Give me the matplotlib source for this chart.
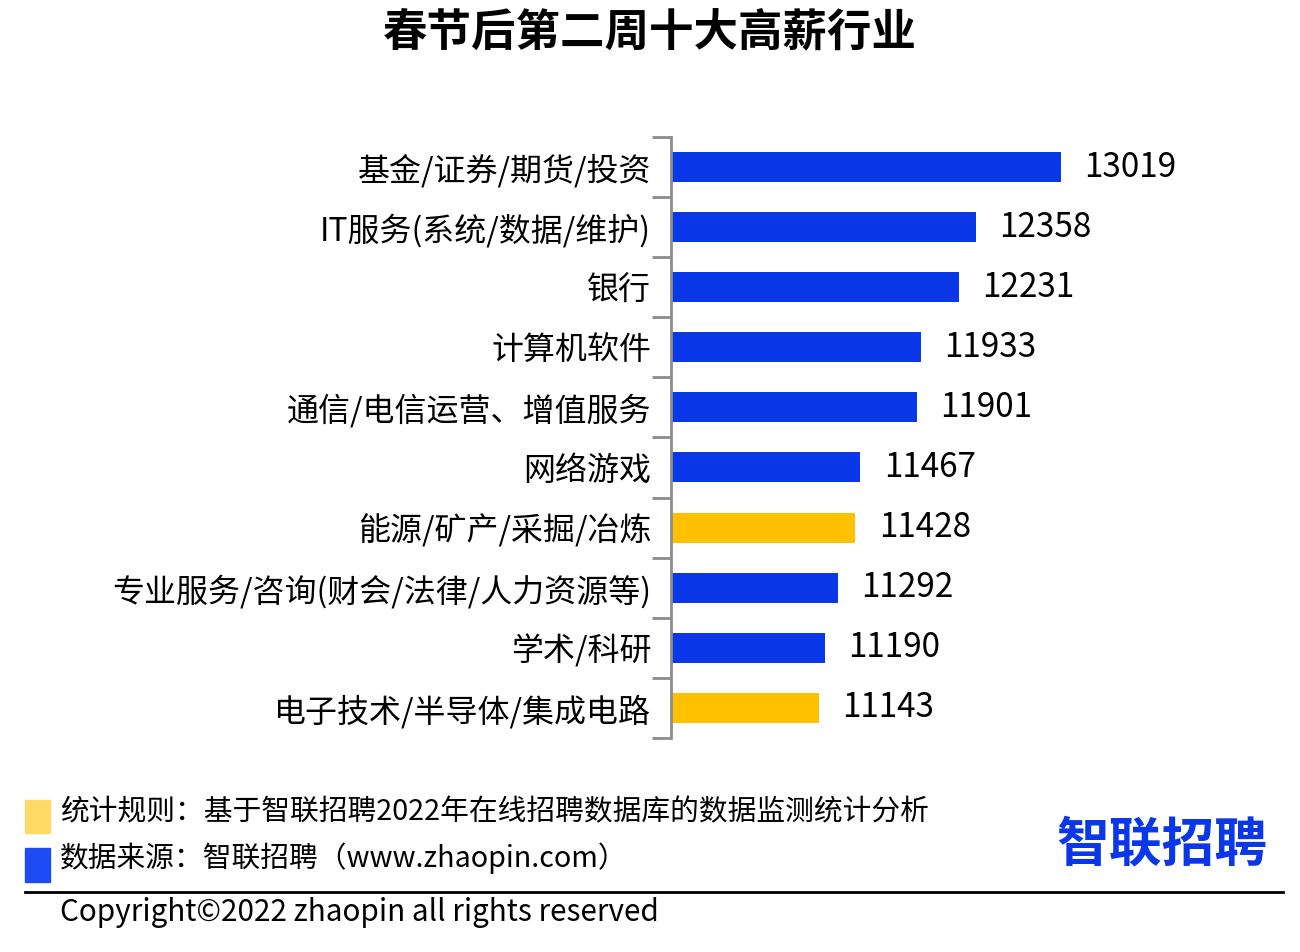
import matplotlib.pyplot as plt
from matplotlib.patches import Rectangle
from matplotlib.lines import Line2D

plt.rcParams['font.family'] = ['Noto Sans CJK SC', 'DejaVu Sans']

industries = ["基金/证券/期货/投资", "IT服务(系统/数据/维护)", "银行", "计算机软件",
              "通信/电信运营、增值服务", "网络游戏", "能源/矿产/采掘/冶炼",
              "专业服务/咨询(财会/法律/人力资源等)", "学术/科研", "电子技术/半导体/集成电路"]
salaries = [13019, 12358, 12231, 11933, 11901, 11467, 11428, 11292, 11190, 11143]
highlight = [False, False, False, False, False, False, True, False, False, True]

BLUE = "#0A37E8"
YELLOW = "#FFC000"

fig = plt.figure(figsize=(13, 9.52), dpi=100)
ax = fig.add_axes([0.516, 0.225, 0.4077, 0.631])

y = list(range(len(industries)))
colors = [YELLOW if h else BLUE for h in highlight]
ax.barh(y, salaries, height=0.5, color=colors, left=0)
ax.set_xlim(10000, 14100)
ax.set_ylim(len(industries) - 0.5, -0.5)

for yi, v in zip(y, salaries):
    ax.text(v + 180, yi, str(v), va="center", ha="left", fontsize=24)

ax.set_yticks(y)
ax.set_yticklabels(industries, fontsize=23)
ax.tick_params(axis="y", which="major", length=0, pad=14)
ax.set_yticks([i - 0.5 for i in range(len(industries) + 1)], minor=True)
ax.tick_params(axis="y", which="minor", length=14, width=2, color="#8c8c8c")
ax.set_xticks([])
for s in ["top", "right", "bottom"]:
    ax.spines[s].set_visible(False)
ax.spines["left"].set_color("#8c8c8c")
ax.spines["left"].set_linewidth(2)

fig.text(0.5, 1 - 33 / 952, "春节后第二周十大高薪行业", ha="center", va="center",
         fontsize=32, fontweight="bold")

# footer notes
fig.patches.append(Rectangle((25 / 1300, 1 - 833 / 952), 25 / 1300, 33 / 952,
                             transform=fig.transFigure, color="#FFD966"))
fig.patches.append(Rectangle((25 / 1300, 1 - 882 / 952), 25 / 1300, 34 / 952,
                             transform=fig.transFigure, color="#1F4BF5"))
fig.text(60 / 1300, 1 - 812 / 952, "统计规则：基于智联招聘2022年在线招聘数据库的数据监测统计分析",
         ha="left", va="center", fontsize=20.7)
fig.text(60 / 1300, 1 - 858 / 952, "数据来源：智联招聘（www.zhaopin.com）",
         ha="left", va="center", fontsize=20.7)

fig.text(1162 / 1300, 1 - 845 / 952, "智联招聘", ha="center", va="center",
         fontsize=38, fontweight="bold", color="#0A37E8")

fig.add_artist(Line2D([25 / 1300, 1283 / 1300], [1 - 892 / 952, 1 - 892 / 952],
                      transform=fig.transFigure, color="black", linewidth=2))
fig.text(60 / 1300, 1 - 913 / 952, "Copyright©2022 zhaopin all rights reserved",
         ha="left", va="center", fontsize=21.4)

fig.savefig("out.png", dpi=100, facecolor="white")
